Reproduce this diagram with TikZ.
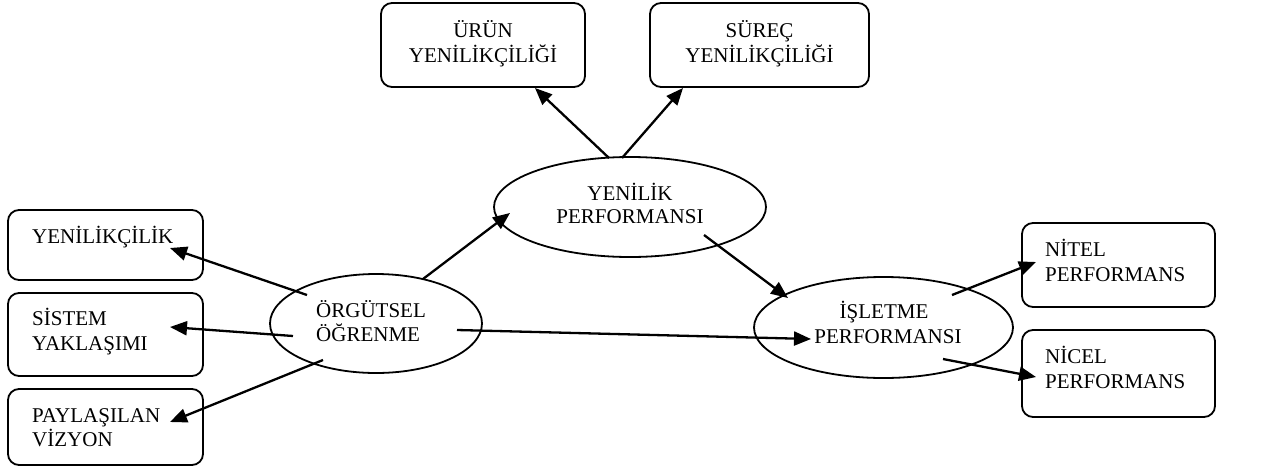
\documentclass[tikz,border=0pt]{standalone}
\usepackage{fontspec}
\setmainfont{Liberation Serif}
\usetikzlibrary{shapes.geometric,arrows.meta}
\tikzset{
  boxnode/.style={draw, line width=1.8pt, rounded corners=11pt, inner sep=0pt},
  ellnode/.style={draw, ellipse, line width=1.8pt, inner sep=0pt},
  txt/.style={inner sep=0pt, font=\fontsize{21}{24}\selectfont},
  arr/.style={-{Triangle[length=17pt,width=14pt]}, line width=2.3pt},
}
\begin{document}
\begin{tikzpicture}[x=1pt,y=-1pt]
\useasboundingbox (0,0) rectangle (1264,469);
% boxes
\node[boxnode, minimum width=204pt, minimum height=84pt] (urun) at (483,45) {};
\node[boxnode, minimum width=219pt, minimum height=84pt] (surec) at (759.5,45) {};
\node[boxnode, minimum width=195pt, minimum height=70pt] (yenilikcilik) at (105.5,245) {};
\node[boxnode, minimum width=195pt, minimum height=83pt] (sistem) at (105.5,334.5) {};
\node[boxnode, minimum width=195pt, minimum height=76pt] (paylasilan) at (105.5,427) {};
\node[boxnode, minimum width=193pt, minimum height=84pt] (nitel) at (1118.5,265) {};
\node[boxnode, minimum width=193pt, minimum height=87pt] (nicel) at (1118.5,373.5) {};
% ellipses
\node[ellnode, minimum width=272pt, minimum height=100pt] (yenilik) at (630,207) {};
\node[ellnode, minimum width=212pt, minimum height=99pt] (orgutsel) at (376,323.5) {};
\node[ellnode, minimum width=259pt, minimum height=101pt] (isletme) at (883.5,327.5) {};
% texts
\node[txt, anchor=base] (t1a) at (483,37) {ÜRÜN};
\node[txt, anchor=base] (t1b) at (483,62) {YENİLİKÇİLİĞİ};
\node[txt, anchor=base] (t2a) at (759.5,37) {SÜREÇ};
\node[txt, anchor=base] (t2b) at (759.5,62) {YENİLİKÇİLİĞİ};
\node[txt, anchor=base] (t3a) at (630,200) {YENİLİK};
\node[txt, anchor=base] (t3b) at (630,223) {PERFORMANSI};
\node[txt, anchor=base west] (t4) at (32,243) {YENİLİKÇİLİK};
\node[txt, anchor=base west] (t5a) at (32,325) {SİSTEM};
\node[txt, anchor=base west] (t5b) at (32,350) {YAKLAŞIMI};
\node[txt, anchor=base west] (t6a) at (32,422) {PAYLAŞILAN};
\node[txt, anchor=base west] (t6b) at (32,446) {VİZYON};
\node[txt, anchor=base west] (t7a) at (316,317) {ÖRGÜTSEL};
\node[txt, anchor=base west] (t7b) at (316,341) {ÖĞRENME};
\node[txt, anchor=base] (t8a) at (884,318) {İŞLETME};
\node[txt, anchor=base] (t8b) at (888,343) {PERFORMANSI};
\node[txt, anchor=base west] (t9a) at (1045,256) {NİTEL};
\node[txt, anchor=base west] (t9b) at (1045,281) {PERFORMANS};
\node[txt, anchor=base west] (t10a) at (1045,363) {NİCEL};
\node[txt, anchor=base west] (t10b) at (1045,388) {PERFORMANS};
% connector end points
\coordinate (s1) at (609,158); \coordinate (e1) at (535,88);
\coordinate (s2) at (622,158); \coordinate (e2) at (683,88);
\coordinate (s3) at (307,295); \coordinate (e3) at (170,248);
\coordinate (s4) at (293,336); \coordinate (e4) at (170,327);
\coordinate (s5) at (323,360); \coordinate (e5) at (170,422);
\coordinate (s6) at (423,279); \coordinate (e6) at (510,213);
\coordinate (s7) at (457,330); \coordinate (e7) at (811,339);
\coordinate (s8) at (704,235); \coordinate (e8) at (788,298);
\coordinate (s9) at (952,295); \coordinate (e9) at (1036,262);
\coordinate (s10) at (943,359); \coordinate (e10) at (1036,377);
% connectors
\draw[arr] (s1) -- (e1);
\draw[arr] (s2) -- (e2);
\draw[arr] (s3) -- (e3);
\draw[arr] (s4) -- (e4);
\draw[arr] (s5) -- (e5);
\draw[arr] (s6) -- (e6);
\draw[arr] (s7) -- (e7);
\draw[arr] (s8) -- (e8);
\draw[arr] (s9) -- (e9);
\draw[arr] (s10) -- (e10);
\end{tikzpicture}
\end{document}
